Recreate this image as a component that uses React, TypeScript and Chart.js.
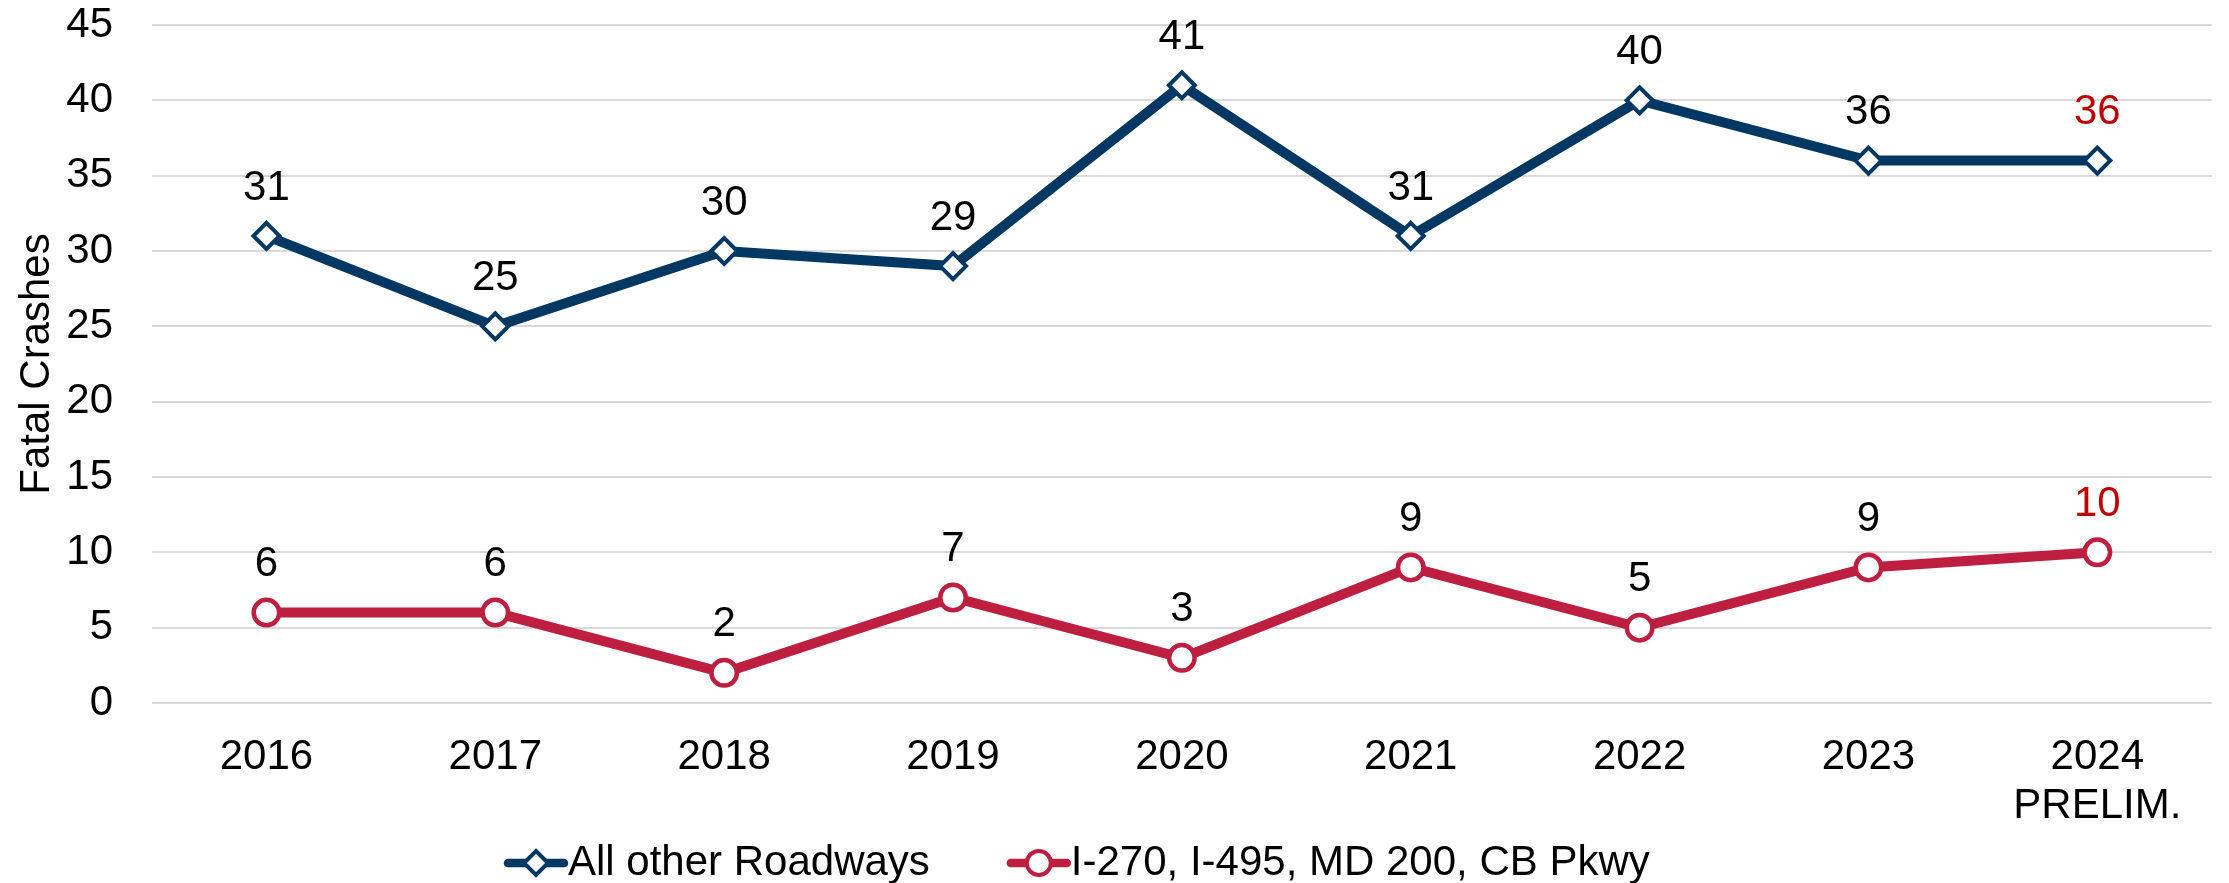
import { useEffect, useRef } from "react";
import { Chart, registerables } from "chart.js";

Chart.register(...registerables);

const categories: (string | string[])[] = ["2016", "2017", "2018", "2019", "2020", "2021", "2022", "2023", ["2024", "PRELIM."]];
const allOtherRoadways = [31, 25, 30, 29, 41, 31, 40, 36, 36];
const freewayRoadways = [6, 6, 2, 7, 3, 9, 5, 9, 10];
const seriesNames = ["All other Roadways", "I-270, I-495, MD 200, CB Pkwy"];
const yAxisTitle = "Fatal Crashes";
const yMin = 0;
const yMax = 45;
const yStep = 5;

const NAVY = "#003863";
const RED = "#be1e3f";
const LABEL_RED = "#c00000";
const FONT = "'Liberation Sans', Arial, sans-serif";
const FONT_SIZE = 42;

const dataLabelPlugin = {
  id: "dataLabels",
  afterDatasetsDraw(chart: any) {
    const ctx = chart.ctx;
    ctx.save();
    ctx.font = `${FONT_SIZE}px ${FONT}`;
    ctx.textAlign = "center";
    ctx.textBaseline = "middle";
    chart.data.datasets.forEach((ds: any, di: number) => {
      const meta = chart.getDatasetMeta(di);
      meta.data.forEach((pt: any, i: number) => {
        const last = i === ds.data.length - 1;
        ctx.fillStyle = last ? LABEL_RED : "#000000";
        ctx.fillText(String(ds.data[i]), pt.x, pt.y - 48);
      });
    });
    ctx.restore();
  },
};

const legendPlugin = {
  id: "customLegend",
  afterDraw(chart: any) {
    const ctx = chart.ctx;
    ctx.save();
    ctx.font = `${FONT_SIZE}px ${FONT}`;
    ctx.textBaseline = "middle";
    ctx.textAlign = "left";
    const y = 863;
    let x = 505;
    chart.data.datasets.forEach((ds: any) => {
      const color = ds.borderColor;
      ctx.strokeStyle = color;
      ctx.lineWidth = 8.5;
      ctx.lineCap = "round";
      ctx.beginPath();
      ctx.moveTo(x + 3, y);
      ctx.lineTo(x + 59, y);
      ctx.stroke();
      const cx = x + 31;
      ctx.fillStyle = "#ffffff";
      ctx.lineWidth = 4;
      ctx.beginPath();
      if (ds.pointStyle === "rectRot") {
        const r = 12;
        ctx.moveTo(cx, y - r);
        ctx.lineTo(cx + r, y);
        ctx.lineTo(cx, y + r);
        ctx.lineTo(cx - r, y);
        ctx.closePath();
      } else {
        ctx.arc(cx, y, 12, 0, Math.PI * 2);
      }
      ctx.fill();
      ctx.stroke();
      ctx.fillStyle = "#000000";
      const tx = x + 63;
      ctx.fillText(ds.label, tx, y);
      x = tx + ctx.measureText(ds.label).width + 78;
    });
    ctx.restore();
  },
};

export default function App() {
  const canvasRef = useRef<HTMLCanvasElement | null>(null);

  useEffect(() => {
    if (!canvasRef.current) return;
    const chart = new Chart(canvasRef.current, {
      type: "line",
      data: {
        labels: categories,
        datasets: [
          {
            label: seriesNames[0],
            data: allOtherRoadways,
            borderColor: NAVY,
            backgroundColor: "#ffffff",
            borderWidth: 10,
            pointStyle: "rectRot",
            pointRadius: 13,
            pointBorderWidth: 4,
            pointBackgroundColor: "#ffffff",
            pointBorderColor: NAVY,
            tension: 0,
          },
          {
            label: seriesNames[1],
            data: freewayRoadways,
            borderColor: RED,
            backgroundColor: "#ffffff",
            borderWidth: 10,
            pointStyle: "circle",
            pointRadius: 12.75,
            pointBorderWidth: 4.5,
            pointBackgroundColor: "#ffffff",
            pointBorderColor: RED,
            tension: 0,
          },
        ],
      },
      options: {
        responsive: false,
        animation: false,
        devicePixelRatio: 1,
        layout: { padding: { top: 25, right: 12, bottom: 0, left: 0 } },
        plugins: {
          legend: { display: false },
          tooltip: { enabled: false },
        },
        scales: {
          x: {
            offset: true,
            grid: { display: false },
            border: { display: false },
            ticks: {
              color: "#000000",
              font: { family: FONT, size: FONT_SIZE, lineHeight: 49 / 42 },
              padding: 22,
              maxRotation: 0,
              autoSkip: false,
            },
            afterFit(scale: any) {
              scale.height = 180;
            },
          },
          y: {
            min: yMin,
            max: yMax,
            border: { display: false },
            grid: { color: "#d9d9d9", lineWidth: 2, drawTicks: false },
            ticks: {
              stepSize: yStep,
              color: "#000000",
              font: { family: FONT, size: FONT_SIZE },
              padding: 39,
            },
            title: {
              display: true,
              text: yAxisTitle,
              color: "#000000",
              font: { family: FONT, size: FONT_SIZE, lineHeight: 1.2 },
              padding: { top: 12, bottom: 0 },
            },
            afterFit(scale: any) {
              scale.width = 152;
              scale.paddingTop = 0;
              scale.paddingBottom = 0;
            },
          },
        },
      },
      plugins: [dataLabelPlugin, legendPlugin],
    });
    return () => chart.destroy();
  }, []);

  return (
    <div style={{ position: "fixed", left: 0, top: 0, width: 2229, height: 883, background: "#ffffff" }}>
      <canvas ref={canvasRef} width={2229} height={883} style={{ display: "block" }} />
    </div>
  );
}
